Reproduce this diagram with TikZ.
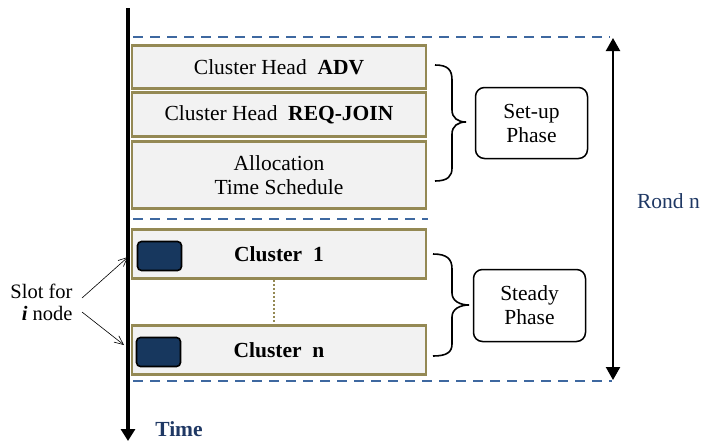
\documentclass[tikz,border=0pt]{standalone}
\usepackage{fontspec}
\setmainfont{Liberation Serif}
\usetikzlibrary{arrows.meta}
\definecolor{olivebd}{RGB}{148,137,84}
\definecolor{boxfill}{RGB}{242,242,242}
\definecolor{dashblue}{RGB}{62,104,160}
\definecolor{navy}{RGB}{23,55,94}
\definecolor{textblue}{RGB}{31,56,100}
\tikzset{
  slotbox/.style={draw=olivebd, line width=2.7pt, fill=boxfill, minimum width=294pt, inner sep=0pt, align=center},
  marker/.style={draw=black, line width=1.6pt, fill=navy, rounded corners=4pt, minimum width=44pt, minimum height=29pt, inner sep=0pt},
  phasebox/.style={draw=black, line width=1.5pt, rounded corners=9pt, minimum width=112pt, inner sep=0pt, align=center},
  sepline/.style={draw=dashblue, line width=2.8pt, dash pattern=on 10pt off 7pt},
  bracepath/.style={draw=black, line width=1.6pt},
  thinarrow/.style={draw=black, line width=0.6pt, -{Straight Barb[length=9pt,width=8pt]}},
}
\begin{document}
\begin{tikzpicture}[x=1pt,y=-1pt, font=\fontsize{21.5}{24}\selectfont]
\useasboundingbox (0,0) rectangle (719,442);

% separators
\coordinate (d1a) at (133,37);  \coordinate (d1b) at (610,37);
\coordinate (d2a) at (133,219); \coordinate (d2b) at (428,219);
\coordinate (d3a) at (133,381); \coordinate (d3b) at (612,381);
\draw[sepline] (d1a) -- (d1b);
\draw[sepline] (d2a) -- (d2b);
\draw[sepline] (d3a) -- (d3b);

% boxes
\node[slotbox, minimum height=43pt] (b1) at (279,67) {Cluster Head\enspace\textbf{ADV}};
\node[slotbox, minimum height=44pt] (b2) at (279,114.5) {Cluster Head\enspace\textbf{REQ-JOIN}};
\node[slotbox, minimum height=67pt] (b3) at (279,175) {Allocation\\Time Schedule};
\node[slotbox, minimum height=49pt] (c1) at (279,254) {\textbf{Cluster\enspace 1}};
\node[slotbox, minimum height=49pt] (cn) at (279,350) {\textbf{Cluster\enspace n}};
\node[marker] (m1) at (159.5,256) {};
\node[marker] (mn) at (158.5,352) {};
\draw[draw=olivebd, line width=2.2pt, dash pattern=on 2pt off 2pt] (c1.south -| 274,0) -- (cn.north -| 274,0);

% time axis
\coordinate (t0) at (128,8);
\coordinate (t1) at (128,441);
\draw[line width=3.5pt, -{Triangle[width=14pt,length=12pt]}] (t0) -- (t1);
\node[font=\fontsize{21.5}{24}\selectfont\bfseries, text=textblue] (time) at (179,429) {Time};

% slot label
\node[align=right, font=\fontsize{20.5}{22}\selectfont, inner sep=0pt] (slot) at (41.5,302) {Slot for\\\textit{\textbf{i}} node};
\coordinate (s1) at (82,298);
\coordinate (s2) at (82,312);
\coordinate (e1) at (128,257);
\coordinate (e2) at (124,345);
\draw[thinarrow] (s1) -- (e1);
\draw[thinarrow] (s2) -- (e2);

% braces
\draw[bracepath] (435,65) .. controls (448,65) and (452,70) .. (452,80) -- (452,110)
  .. controls (452,118) and (458,122) .. (466,122)
  .. controls (458,122) and (452,126) .. (452,134) -- (452,168)
  .. controls (452,176) and (448,181) .. (435,181);
\draw[bracepath] (433,254) .. controls (447,254) and (452,259) .. (452,269) -- (452,293)
  .. controls (452,301) and (460,305) .. (469,305)
  .. controls (460,305) and (452,309) .. (452,317) -- (452,344)
  .. controls (452,352) and (447,356) .. (433,356);

% phase boxes
\node[phasebox, minimum height=71pt] (setup) at (531.5,123) {Set-up\\Phase};
\node[phasebox, minimum height=72pt] (steady) at (529.5,305.5) {Steady\\Phase};

% round arrow
\coordinate (r0) at (613,38);
\coordinate (r1) at (613,380);
\draw[line width=2.2pt, {Triangle[width=14pt,length=13pt]}-{Triangle[width=14pt,length=13pt]}] (r0) -- (r1);
\node[text=textblue] (rond) at (668.5,201) {Rond n};
\end{tikzpicture}
\end{document}
